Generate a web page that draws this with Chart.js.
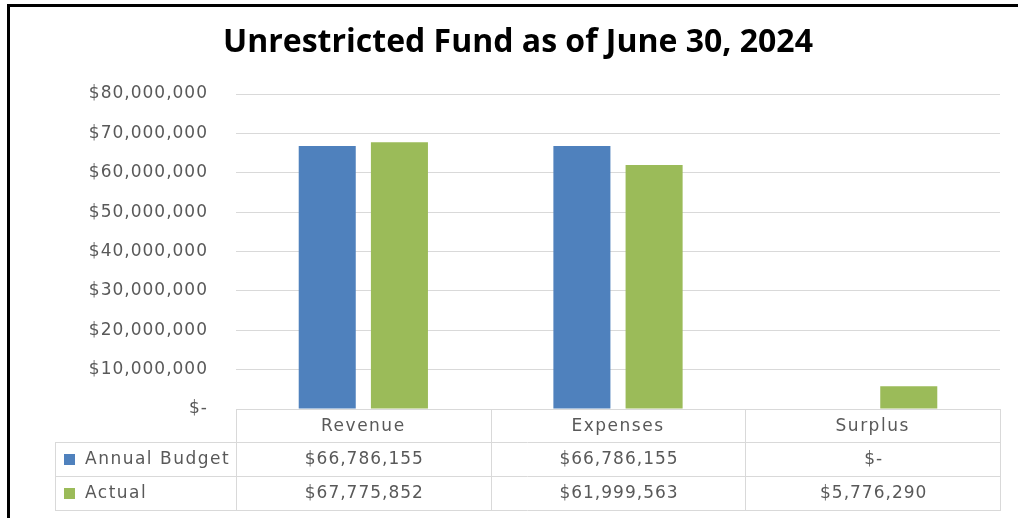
<!DOCTYPE html>
<html>
<head>
<meta charset="utf-8">
<title>Unrestricted Fund</title>
<script src="https://cdn.jsdelivr.net/npm/chart.js@4.4.1/dist/chart.umd.min.js"></script>
<style>
  html, body { margin: 0; padding: 0; background: #fff; }
  #frame {
    position: absolute; left: 7px; top: 4px; right: 0; bottom: 0;
    border-top: 3px solid #000; border-left: 3px solid #000;
  }
  #fundChart { position: absolute; left: 0; top: 0; }
</style>
</head>
<body>
<div id="frame"></div>
<canvas id="fundChart" width="1018" height="518"></canvas>
<script>
const categories = ["Revenue", "Expenses", "Surplus"];
const seriesNames = ["Annual Budget", "Actual"];
const annualBudget = [66786155, 66786155, 0];
const actual = [67775852, 61999563, 5776290];
const yMax = 80000000;
const yStep = 10000000;

const BLUE = "#4f81bd";
const GREEN = "#9bbb59";
const TEXT_GREY = "#595959";
const RULE_GREY = "#d9d9d9";
const TABLE_FONT = "17px 'DejaVu Sans', sans-serif";

function formatMoney(value) {
  return value === 0 ? "$-" : "$" + value.toLocaleString("en-US");
}

// Excel-style data table under the plot, laid out on the x scale's categories.
const dataTablePlugin = {
  id: "dataTable",
  // y tick labels sit on z 1, so they are drawn after this hook with the wider spacing
  afterDatasetsDraw(chart) {
    chart.ctx.letterSpacing = "1px";
  },
  afterDraw(chart) {
    const { ctx, chartArea } = chart;
    const datasets = chart.data.datasets;
    const left = Math.round(chartArea.left);
    const right = Math.round(chartArea.right);
    const top = Math.round(chartArea.bottom);
    const rowTops = [top, top + 33, top + 67, top + 101];
    const colW = (right - left) / categories.length;
    const keyLeft = 55;

    ctx.save();
    ctx.strokeStyle = RULE_GREY;
    ctx.lineWidth = 1;
    ctx.beginPath();
    for (let r = 1; r < rowTops.length; r++) {
      ctx.moveTo(keyLeft, rowTops[r] + 0.5);
      ctx.lineTo(right, rowTops[r] + 0.5);
    }
    for (let c = 0; c <= categories.length; c++) {
      const x = Math.round(left + c * colW) + 0.5;
      ctx.moveTo(x, top);
      ctx.lineTo(x, rowTops[3] + 1);
    }
    ctx.moveTo(keyLeft + 0.5, rowTops[1]);
    ctx.lineTo(keyLeft + 0.5, rowTops[3] + 1);
    ctx.stroke();

    ctx.font = TABLE_FONT;
    ctx.fillStyle = TEXT_GREY;
    ctx.textBaseline = "middle";
    ctx.textAlign = "center";

    // category header row
    ctx.letterSpacing = "1.5px";
    categories.forEach((name, i) => {
      const cx = chart.scales.x.getPixelForValue(i);
      ctx.fillText(name, cx, (rowTops[0] + rowTops[1]) / 2 + 1);
    });

    datasets.forEach((ds, r) => {
      const cy = (rowTops[r + 1] + rowTops[r + 2]) / 2 + 1;
      // legend key + series name
      ctx.fillStyle = ds.backgroundColor;
      ctx.fillRect(64, Math.round(cy - 6), 11, 11);
      ctx.fillStyle = TEXT_GREY;
      ctx.textAlign = "left";
      ctx.letterSpacing = "1.5px";
      ctx.fillText(ds.label, 85, cy);
      // values
      ctx.textAlign = "center";
      ctx.letterSpacing = "1px";
      ds.data.forEach((v, i) => {
        const cx = chart.scales.x.getPixelForValue(i);
        ctx.fillText(formatMoney(v), cx + 1, cy);
      });
    });
    ctx.restore();
    ctx.letterSpacing = "0px";
  }
};

new Chart(document.getElementById("fundChart"), {
  type: "bar",
  data: {
    labels: categories,
    datasets: [
      { label: seriesNames[0], data: annualBudget, backgroundColor: BLUE },
      { label: seriesNames[1], data: actual, backgroundColor: GREEN },
    ],
  },
  options: {
    responsive: false,
    animation: false,
    categoryPercentage: 0.567,
    barPercentage: 0.79,
    layout: { padding: { left: 36, right: 18, top: 0, bottom: 109 } },
    plugins: {
      legend: { display: false },
      tooltip: { enabled: false },
      title: {
        display: true,
        text: "Unrestricted Fund as of June 30, 2024",
        color: "#000",
        font: { family: "'Open Sans', sans-serif", size: 32, weight: "bold", lineHeight: 1.2 },
        padding: { top: 23.4, bottom: 32.2 },
      },
    },
    scales: {
      x: { display: false },
      y: {
        min: 0,
        max: yMax,
        afterFit(scale) { scale.width = 200; },
        border: { display: false },
        grid: { color: RULE_GREY, lineWidth: 1, drawTicks: false },
        ticks: {
          z: 1,
          stepSize: yStep,
          padding: 28,
          color: TEXT_GREY,
          font: { family: "'DejaVu Sans', sans-serif", size: 17 },
          callback: (value) => formatMoney(value),
        },
      },
    },
  },
  plugins: [dataTablePlugin],
});
</script>
</body>
</html>
